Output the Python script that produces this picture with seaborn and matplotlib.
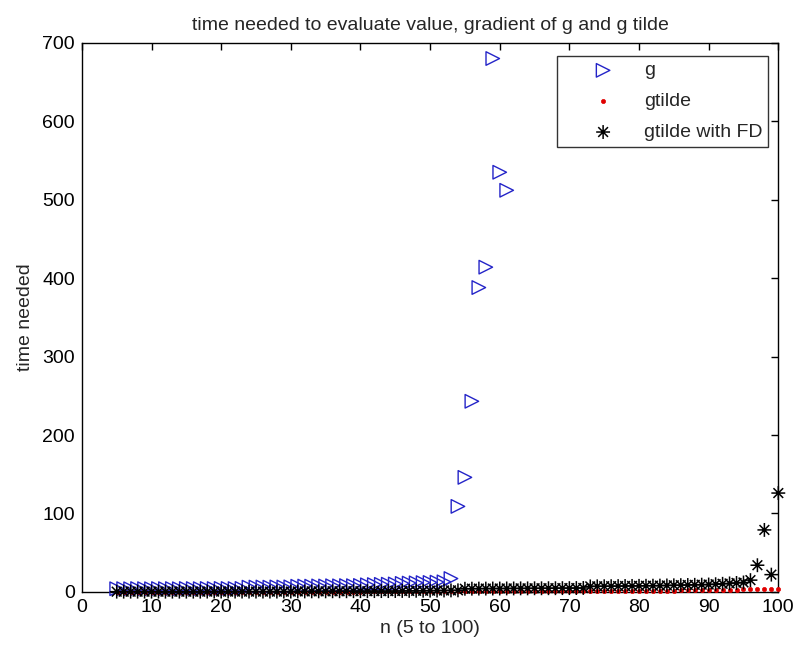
import numpy as np
import pandas as pd
import matplotlib
matplotlib.use("Agg")
import matplotlib.pyplot as plt
from matplotlib.path import Path
import seaborn as sns

# ---- data ----
n_g = list(range(5, 62))
g_vals = [4.0, 4.1, 4.0, 4.2, 4.1, 4.0, 4.2, 4.1, 4.2, 4.0, 4.3, 4.2, 4.1, 4.3, 4.2, 4.4, 4.3, 4.2, 4.4,
          6.0, 6.1, 6.2, 6.0, 6.3, 6.2, 6.4,
          7.2, 7.4, 7.3, 7.6, 7.5, 7.8, 7.7, 8.0, 7.9, 8.2,
          9.0, 9.3, 9.6, 9.8, 10.1,
          10.8, 11.2, 11.5, 11.8, 12.0,
          12.4, 12.8,
          17.0,
          109.0, 146.0, 243.0, 388.0, 414.0, 680.0, 535.0, 512.0]

n_t = list(range(5, 101))
gtilde_vals = [0.1, 0.1, 0.1, 0.1, 0.1, 0.1, 0.1, 0.1, 0.1, 0.1, 0.1, 0.1, 0.1, 0.1, 0.1, 0.1, 0.1, 0.1,
               0.2, 0.2, 0.2, 0.2, 0.2, 0.2, 0.2, 0.2, 0.2, 0.2, 0.2, 0.2, 0.2, 0.2, 0.2, 0.2, 0.2, 0.2,
               0.5, 0.5, 0.5, 0.5, 0.5, 0.5, 0.5, 0.5, 0.5, 0.5, 0.6, 0.6, 0.6, 0.6, 0.6, 0.6, 0.6, 0.6,
               0.7, 0.7, 0.7, 0.7, 0.7, 0.7, 0.7, 0.7, 0.8, 0.8, 0.8, 0.8,
               1.0, 1.0, 1.0, 1.1, 1.1, 1.1, 1.2, 1.2, 1.2, 1.3, 1.3, 1.4, 1.4, 1.5, 1.5,
               2.2, 2.3, 2.4, 2.5, 2.6, 2.7, 2.8, 2.9, 3.0, 3.1,
               3.3, 3.4, 3.5, 3.6, 3.8]
gtilde_fd_vals = [0.3, 0.3, 0.3, 0.3, 0.3, 0.3, 0.3, 0.3, 0.3, 0.3, 0.3, 0.3, 0.3,
                  0.4, 0.4, 0.4, 0.4, 0.4, 0.4, 0.4, 0.4, 0.4, 0.4, 0.4, 0.4, 0.4,
                  0.6, 0.6, 0.7, 0.7, 0.7, 0.8, 0.8, 0.8, 0.9, 0.9, 0.9, 1.0, 1.0, 1.0, 1.1,
                  1.2, 1.3, 1.4, 1.5, 1.6, 1.7, 1.8, 1.9, 2.0,
                  4.0, 4.1, 4.2, 4.2, 4.3, 4.3, 4.4, 4.4, 4.5, 4.5, 4.6, 4.6, 4.7, 4.7, 4.8, 4.8, 4.9, 5.0,
                  7.0, 7.1, 7.2, 7.3, 7.4, 7.5, 7.6, 7.7, 7.8, 7.9,
                  8.0, 8.2, 8.4, 8.6, 8.8, 9.0, 9.2, 9.4,
                  9.8, 10.3, 10.8, 11.4, 12.0,
                  15.0, 34.0, 79.0, 22.0, 126.0]

xticks = [0, 10, 20, 30, 40, 50, 60, 70, 80, 90, 100]
yticks = [0, 100, 200, 300, 400, 500, 600, 700]

df_g = pd.DataFrame({"n": n_g, "t": g_vals})
df_t = pd.DataFrame({"n": n_t, "t": gtilde_vals})
df_fd = pd.DataFrame({"n": n_t, "t": gtilde_fd_vals})

sns.set_style("white")
plt.rcParams['font.family'] = ['Liberation Sans', 'DejaVu Sans']

fig = plt.figure(figsize=(7.95, 6.49), dpi=100)
ax = fig.add_axes([0.103, 0.088, 0.876, 0.846])

asterisk = Path(
    [(-1, 0), (1, 0), (0, -1), (0, 1), (-0.7, -0.7), (0.7, 0.7), (-0.7, 0.7), (0.7, -0.7)],
    [Path.MOVETO, Path.LINETO] * 4,
)

blue = "#2424c8"
sns.scatterplot(data=df_g, x="n", y="t", marker=">", s=95, facecolor="none",
                edgecolor=blue, linewidth=1.0, label="g", ax=ax, clip_on=False, zorder=3)
sns.scatterplot(data=df_t, x="n", y="t", marker="o", s=9, color="#e00000",
                edgecolor="#e00000", linewidth=0.5, label="gtilde", ax=ax, clip_on=False, zorder=4)
sns.scatterplot(data=df_fd, x="n", y="t", marker=asterisk, s=100, facecolor="none",
                edgecolor="black", linewidth=1.1, label="gtilde with FD", ax=ax, clip_on=False, zorder=5)

ax.set_xlim(0, 100)
ax.set_ylim(0, 700)
ax.set_xticks(xticks)
ax.set_yticks(yticks)
ax.tick_params(direction="in", length=5, width=1, top=True, right=True,
               labelsize=14, colors="black", pad=5)
for sp in ax.spines.values():
    sp.set_visible(True)
    sp.set_color("black")
    sp.set_linewidth(1.0)

ax.set_title("time needed to evaluate value, gradient of g and g tilde", fontsize=14, pad=9)
ax.set_xlabel("n (5 to 100)", fontsize=14, labelpad=3)
ax.set_ylabel("time needed", fontsize=14, labelpad=6)

leg = ax.legend(loc="upper right", bbox_to_anchor=(0.9856, 0.976), borderaxespad=0,
                frameon=True, fancybox=False, edgecolor="black", fontsize=14,
                borderpad=0.3, handletextpad=0.05, labelspacing=0.68, handlelength=4.1)
leg.get_frame().set_linewidth(1.0)

fig.savefig("out.png", dpi=100, facecolor="white")
